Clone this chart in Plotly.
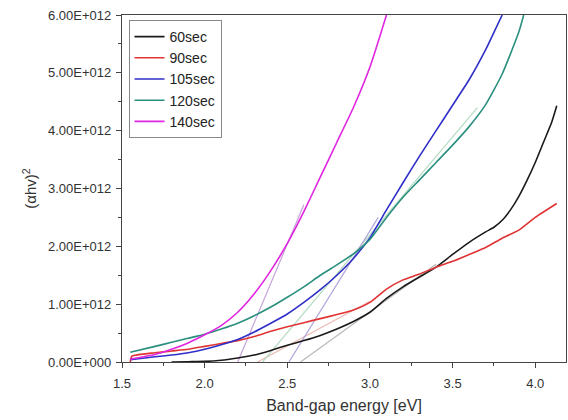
import plotly.graph_objects as go

# ---- data (y in units of 1e12) ----
x_60 = [1.8, 1.9, 2.0, 2.1, 2.2, 2.3, 2.4, 2.5, 2.6, 2.7, 2.8, 2.9, 3.0, 3.1, 3.2, 3.3, 3.4, 3.5, 3.6, 3.7, 3.75, 3.8, 3.85, 3.9, 3.95, 4.0, 4.05, 4.1, 4.13]
y_60 = [0.0, 0.005, 0.01, 0.03, 0.07, 0.12, 0.2, 0.29, 0.37, 0.46, 0.57, 0.7, 0.86, 1.1, 1.3, 1.47, 1.64, 1.86, 2.07, 2.25, 2.33, 2.45, 2.63, 2.86, 3.14, 3.45, 3.8, 4.15, 4.43]

x_90 = [1.55, 1.56, 1.7, 1.8, 1.9, 2.0, 2.1, 2.2, 2.3, 2.4, 2.5, 2.6, 2.7, 2.8, 2.9, 3.0, 3.1, 3.2, 3.3, 3.4, 3.5, 3.6, 3.7, 3.8, 3.9, 4.0, 4.13]
y_90 = [0.0, 0.1, 0.16, 0.19, 0.22, 0.27, 0.32, 0.37, 0.44, 0.53, 0.61, 0.68, 0.75, 0.82, 0.9, 1.03, 1.26, 1.42, 1.52, 1.64, 1.74, 1.86, 1.98, 2.14, 2.28, 2.5, 2.74]

x_105 = [1.55, 1.7, 1.8, 1.9, 2.0, 2.1, 2.2, 2.3, 2.4, 2.5, 2.6, 2.7, 2.8, 2.9, 3.0, 3.1, 3.2, 3.3, 3.4, 3.5, 3.6, 3.7, 3.75, 3.8]
y_105 = [0.04, 0.09, 0.12, 0.16, 0.22, 0.3, 0.39, 0.52, 0.67, 0.83, 1.03, 1.25, 1.5, 1.79, 2.15, 2.63, 3.1, 3.56, 4.0, 4.44, 4.88, 5.4, 5.7, 6.0]

x_120 = [1.55, 1.7, 1.8, 1.9, 2.0, 2.1, 2.2, 2.3, 2.4, 2.5, 2.6, 2.7, 2.8, 2.9, 3.0, 3.1, 3.2, 3.3, 3.4, 3.5, 3.6, 3.7, 3.8, 3.9, 3.93]
y_120 = [0.17, 0.27, 0.34, 0.41, 0.48, 0.57, 0.67, 0.8, 0.95, 1.12, 1.3, 1.5, 1.68, 1.87, 2.12, 2.5, 2.85, 3.15, 3.45, 3.75, 4.07, 4.45, 4.98, 5.7, 6.0]

x_140 = [1.55, 1.7, 1.8, 1.9, 2.0, 2.1, 2.2, 2.3, 2.4, 2.5, 2.6, 2.7, 2.8, 2.9, 3.0, 3.1]
y_140 = [0.05, 0.13, 0.22, 0.33, 0.47, 0.63, 0.86, 1.18, 1.58, 2.05, 2.6, 3.2, 3.8, 4.4, 5.1, 6.0]

# tangent (extrapolation) lines: [x_start, x_end], [y_start, y_end]
tan_60_x, tan_60_y = [2.58, 3.4], [0.0, 1.69]
tan_90_x, tan_90_y = [2.32, 3.0], [0.0, 1.05]
tan_105_x, tan_105_y = [2.51, 3.05], [0.0, 2.5]
tan_120_x, tan_120_y = [2.35, 3.65], [0.0, 4.4]
tan_140_x, tan_140_y = [2.2, 2.6], [0.0, 2.72]

y_tickvals = [0, 1, 2, 3, 4, 5, 6]
y_ticktext = ["0.00E+000", "1.00E+012", "2.00E+012", "3.00E+012", "4.00E+012", "5.00E+012", "6.00E+012"]
x_tickvals = [1.5, 2.0, 2.5, 3.0, 3.5, 4.0]
x_ticktext = ["1.5", "2.0", "2.5", "3.0", "3.5", "4.0"]

fig = go.Figure()

tangents = [
    (tan_140_x, tan_140_y, "#c6a2da"),
    (tan_90_x, tan_90_y, "#edb8b2"),
    (tan_120_x, tan_120_y, "#b4dcc2"),
    (tan_105_x, tan_105_y, "#aea4da"),
    (tan_60_x, tan_60_y, "#b8b8b8"),
]
for tx, ty, c in tangents:
    fig.add_trace(go.Scatter(x=tx, y=ty, mode="lines", line=dict(color=c, width=1.2),
                             showlegend=False, hoverinfo="skip"))

series = [
    ("60sec", x_60, y_60, "#1a1a1a"),
    ("90sec", x_90, y_90, "#e03434"),
    ("105sec", x_105, y_105, "#2f2fc8"),
    ("120sec", x_120, y_120, "#2a8f7e"),
    ("140sec", x_140, y_140, "#e026e0"),
]
for name, xs, ys, c in series:
    fig.add_trace(go.Scatter(x=xs, y=ys, mode="lines", name=name,
                             line=dict(color=c, width=1.6, shape="spline", smoothing=0.5)))

fig.update_layout(
    width=568, height=420,
    margin=dict(l=122, r=2, t=15, b=58),
    paper_bgcolor="white", plot_bgcolor="white",
    font=dict(family="Liberation Sans, Arial, sans-serif", color="#333", size=13),
    showlegend=True,
    legend=dict(x=0.0147, y=0.9856, xanchor="left", yanchor="top",
                bordercolor="#888", borderwidth=1, bgcolor="white",
                font=dict(size=14, color="#222"), tracegroupgap=0,
                itemwidth=30),
)
fig.update_xaxes(
    range=[1.5, 4.186], showline=True, linecolor="#444", linewidth=1.2, mirror=True,
    ticks="outside", ticklen=5, tickcolor="#444", tickvals=x_tickvals, ticktext=x_ticktext,
    minor=dict(ticks="outside", ticklen=3, dtick=0.25, tick0=1.5, tickcolor="#444"),
    showgrid=False, zeroline=False, tickfont=dict(size=13), automargin=False,
    ticklabelstandoff=4,
    title=dict(text="Band-gap energy [eV]", font=dict(size=16), standoff=10),
)
fig.update_yaxes(
    range=[0, 6], showline=True, linecolor="#444", linewidth=1.2, mirror=True,
    ticks="outside", ticklen=5, tickcolor="#444", tickvals=y_tickvals, ticktext=y_ticktext,
    minor=dict(ticks="outside", ticklen=3, dtick=0.5, tick0=0, tickcolor="#444"),
    showgrid=False, zeroline=False, tickfont=dict(size=13), automargin=False,
    ticklabelstandoff=2,
    title=dict(text="(αhv)<sup>2</sup>", font=dict(size=15), standoff=7),
)

# red selection box around the first legend sample (as in the original)
fig.add_shape(type="rect", xref="paper", yref="paper", x0=0.019, x1=0.103, y0=0.925, y1=0.98,
              line=dict(color="#e08a8a", width=1.2), fillcolor="rgba(0,0,0,0)")

fig.write_html("out.html", config={"displayModeBar": False},
               post_script="document.body.style.margin='0';")
